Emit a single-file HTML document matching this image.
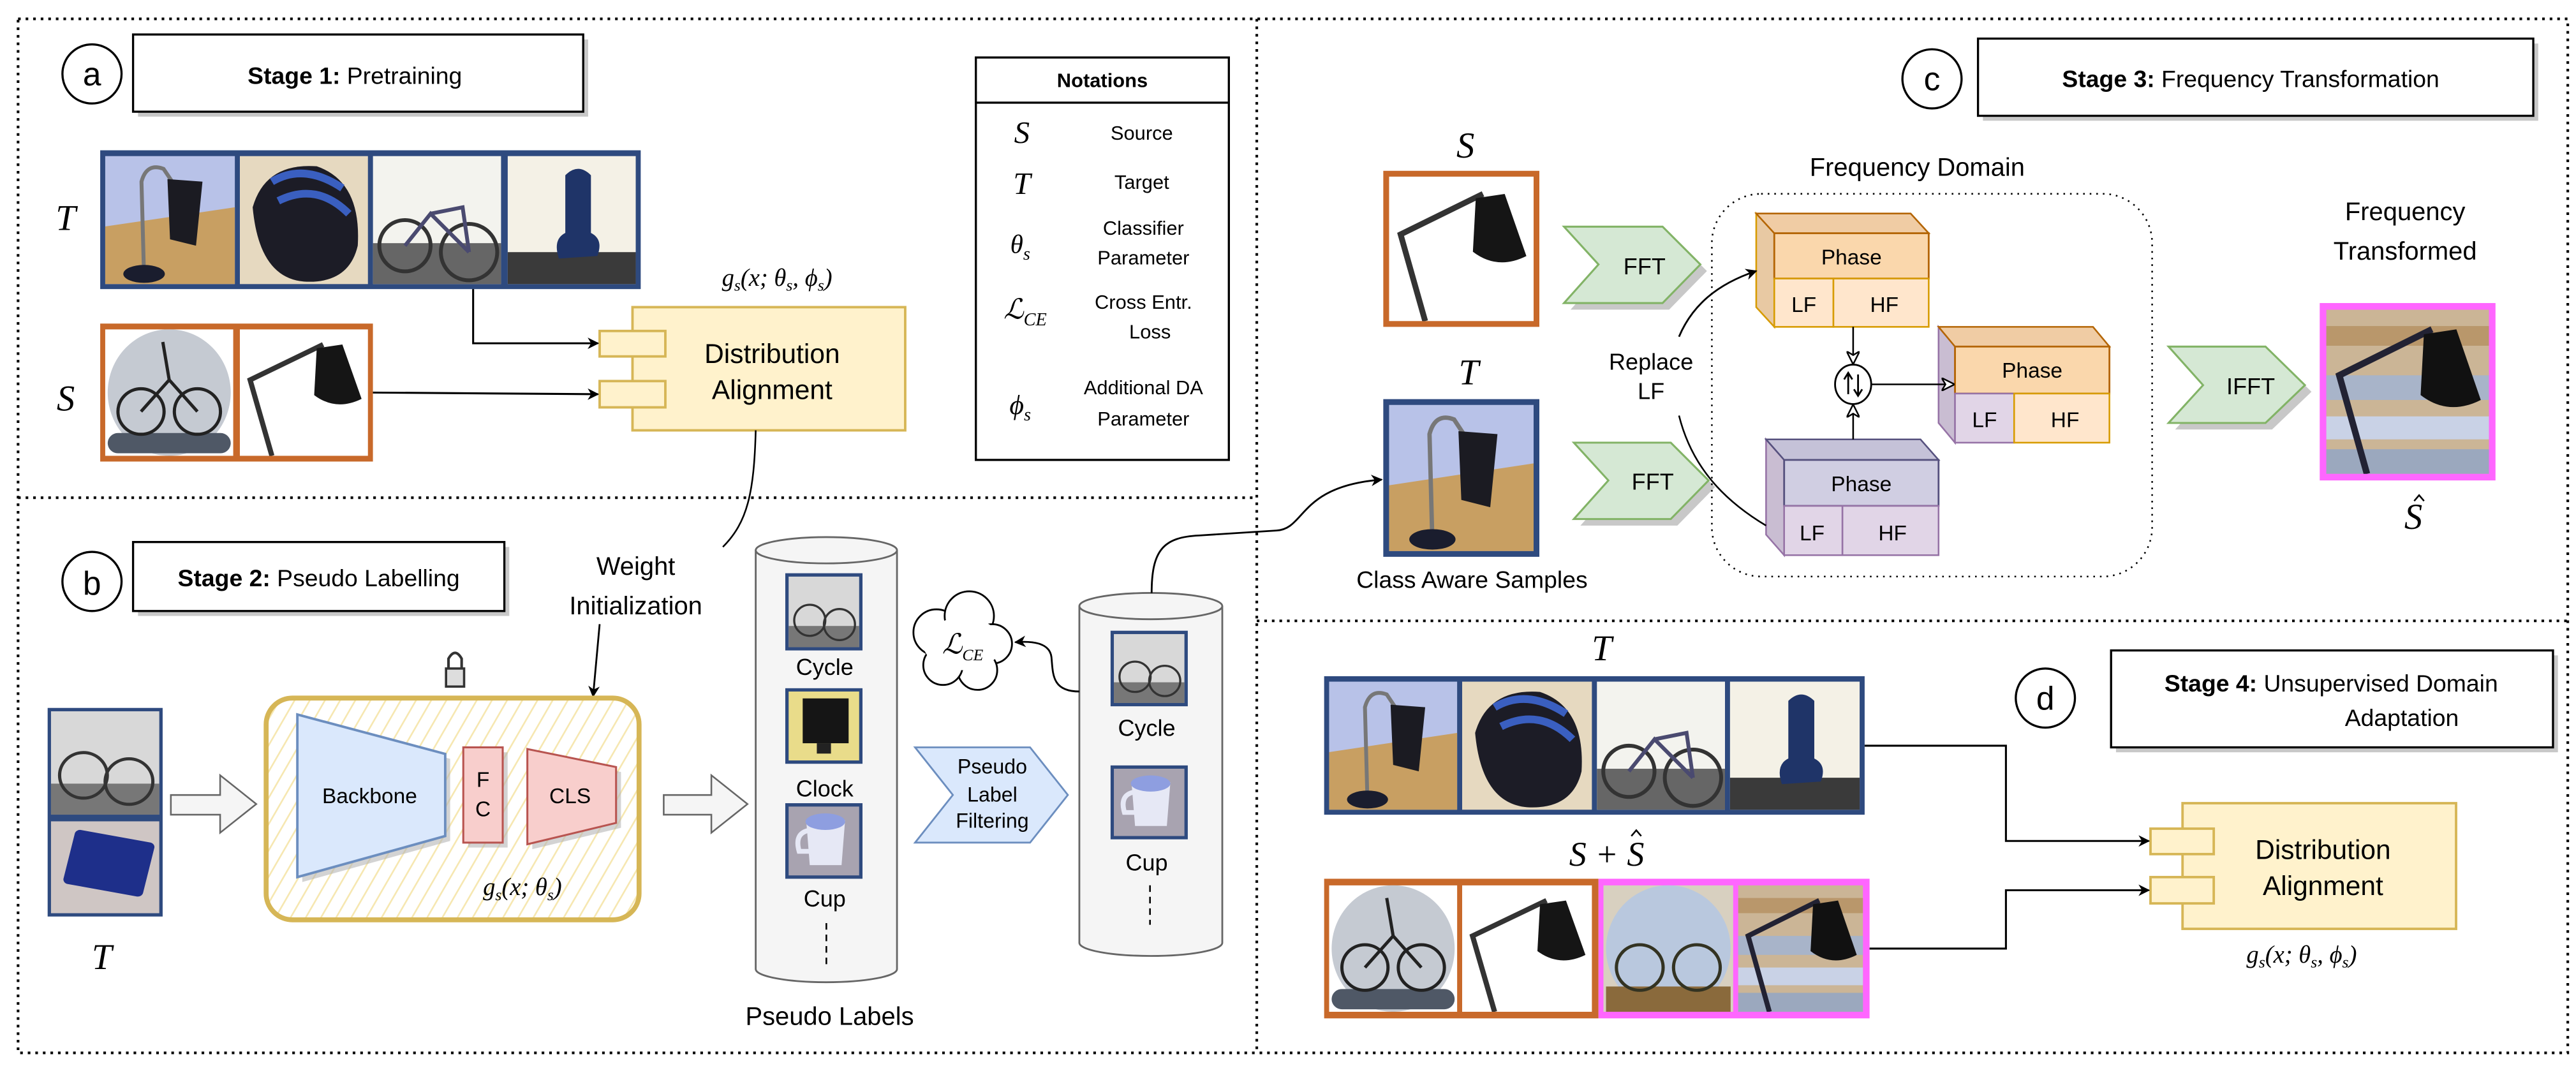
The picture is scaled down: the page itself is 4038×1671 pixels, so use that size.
<!DOCTYPE html>
<html><head><meta charset="utf-8"><style>
html,body{margin:0;padding:0;background:#fff;}
svg{display:block;}
text{font-family:"Liberation Sans",sans-serif;fill:#000;}
.m{font-family:"Liberation Serif",serif;font-style:italic;}
</style></head><body>
<svg width="4038" height="1671" viewBox="0 0 1568 649" preserveAspectRatio="none" xmlns="http://www.w3.org/2000/svg">
<defs>
<marker id="ah" viewBox="0 0 10 10" refX="9" refY="5" markerWidth="7" markerHeight="7" orient="auto" markerUnits="userSpaceOnUse"><path d="M0,0 L10,5 L0,10 L3,5 z" fill="#000"/></marker>
<marker id="ao" viewBox="0 0 10 10" refX="9" refY="5" markerWidth="8" markerHeight="8" orient="auto" markerUnits="userSpaceOnUse"><path d="M0,0 L10,5 L0,10 L3,5 z" fill="#fff" stroke="#000" stroke-width="1.2"/></marker>
<pattern id="hatch" width="8" height="8" patternUnits="userSpaceOnUse" patternTransform="rotate(30)"><rect width="8" height="8" fill="#fff"/><line x1="0" y1="0" x2="0" y2="8" stroke="#f6e7b0" stroke-width="2"/></pattern>
<symbol id="tlamp" viewBox="0 0 100 100" preserveAspectRatio="none"><rect width="100" height="100" fill="#b8c2e8"/><polygon points="0,55 100,40 100,100 0,100" fill="#c89f62"/><path d="M30,95 L28,20 Q32,5 45,10 L55,25" stroke="#777" stroke-width="3" fill="none"/><path d="M48,18 L75,20 L70,70 L50,65 z" fill="#1b1b22"/><ellipse cx="30" cy="92" rx="16" ry="7" fill="#1a1d2e"/></symbol>
<symbol id="helmet" viewBox="0 0 100 100" preserveAspectRatio="none"><rect width="100" height="100" fill="#e6d9c0"/><path d="M10,40 Q20,5 60,8 Q95,20 92,70 Q85,100 50,98 Q15,95 10,40z" fill="#1c1c26"/><path d="M25,20 Q50,5 80,25 M30,35 Q60,20 85,45" stroke="#3a5fc0" stroke-width="6" fill="none"/></symbol>
<symbol id="tbike" viewBox="0 0 100 100" preserveAspectRatio="none"><rect width="100" height="100" fill="#f3f3ee"/><rect y="68" width="100" height="32" fill="#666"/><circle cx="25" cy="70" r="20" fill="none" stroke="#333" stroke-width="3"/><circle cx="75" cy="75" r="22" fill="none" stroke="#333" stroke-width="3"/><path d="M25,70 L45,45 L75,75 M45,45 L70,40 L75,75" stroke="#4a4a70" stroke-width="3" fill="none"/></symbol>
<symbol id="chair" viewBox="0 0 100 100" preserveAspectRatio="none"><rect width="100" height="100" fill="#f4f1e6"/><rect y="75" width="100" height="25" fill="#3a3a3a"/><path d="M45,15 Q55,5 65,15 L65,60 Q75,65 70,78 L40,80 Q35,65 45,60z" fill="#1f3468"/></symbol>
<symbol id="slamp" viewBox="0 0 100 100" preserveAspectRatio="none"><rect width="100" height="100" fill="#fff"/><path d="M25,100 L8,40 L65,12" stroke="#333" stroke-width="4" fill="none"/><path d="M60,15 L80,12 L95,55 Q75,65 58,52z" fill="#151515"/></symbol>
<symbol id="sbike" viewBox="0 0 100 100" preserveAspectRatio="none"><rect width="100" height="100" fill="#fff"/><ellipse cx="50" cy="50" rx="48" ry="50" fill="#c5cad2"/><rect x="2" y="82" width="96" height="16" rx="8" fill="#4f5866"/><circle cx="28" cy="65" r="18" fill="none" stroke="#222" stroke-width="2.5"/><circle cx="72" cy="65" r="18" fill="none" stroke="#222" stroke-width="2.5"/><path d="M28,65 L50,40 L72,65 M50,40 L45,10" stroke="#222" stroke-width="2.5" fill="none"/></symbol>
<symbol id="blur" viewBox="0 0 100 100" preserveAspectRatio="none"><rect width="100" height="100" fill="#cbb596"/><rect y="10" width="100" height="12" fill="#b08a58" opacity=".7"/><rect y="40" width="100" height="15" fill="#9fb4d6" opacity=".8"/><rect y="65" width="100" height="14" fill="#c9d2e6"/><rect y="85" width="100" height="15" fill="#8ea5c8" opacity=".8"/><path d="M25,100 L8,40 L65,12" stroke="#223" stroke-width="4" fill="none"/><path d="M60,15 L80,12 L95,55 Q75,65 58,52z" fill="#111"/></symbol>
<symbol id="blurbike" viewBox="0 0 100 100" preserveAspectRatio="none"><rect width="100" height="100" fill="#d8d0c0"/><ellipse cx="50" cy="50" rx="48" ry="50" fill="#b9c8de"/><rect x="2" y="80" width="96" height="20" fill="#8a6a3c"/><circle cx="28" cy="65" r="18" fill="none" stroke="#332" stroke-width="2.5"/><circle cx="72" cy="65" r="18" fill="none" stroke="#332" stroke-width="2.5"/></symbol>
<symbol id="gbike" viewBox="0 0 100 100" preserveAspectRatio="none"><rect width="100" height="100" fill="#d8d8d8"/><rect y="70" width="100" height="30" fill="#777"/><circle cx="30" cy="62" r="22" fill="none" stroke="#333" stroke-width="3"/><circle cx="72" cy="68" r="22" fill="none" stroke="#333" stroke-width="3"/></symbol>
<symbol id="calc" viewBox="0 0 100 100" preserveAspectRatio="none"><rect width="100" height="100" fill="#cfc6c4"/><rect x="15" y="15" width="75" height="60" rx="5" fill="#1e2f8a" transform="rotate(12 50 50)"/></symbol>
<symbol id="monitor" viewBox="0 0 100 100" preserveAspectRatio="none"><rect width="100" height="100" fill="#e9dc8a"/><rect x="20" y="10" width="65" height="65" fill="#151515"/><rect x="40" y="75" width="20" height="15" fill="#222"/></symbol>
<symbol id="cup" viewBox="0 0 100 100" preserveAspectRatio="none"><rect width="100" height="100" fill="#a8a3b0"/><path d="M25,20 L80,20 L75,85 L30,85z" fill="#e6e8f5"/><ellipse cx="52" cy="22" rx="28" ry="12" fill="#8e9ee0"/><path d="M27,35 Q8,40 15,65 L30,65" stroke="#e6e8f5" stroke-width="7" fill="none"/></symbol>
</defs>

<g stroke="#000" stroke-width="1.6" stroke-dasharray="1.6 3" fill="none">
<rect x="11" y="11.5" width="1552" height="629.5"/>
<line x1="11" y1="303" x2="765" y2="303"/>
<line x1="765" y1="11.5" x2="765" y2="641"/>
<line x1="765" y1="378" x2="1563" y2="378"/>
</g>

<!-- ===== Stage 1 ===== -->
<circle cx="56" cy="45" r="18" fill="#fff" stroke="#000" stroke-width="1.3"/>
<text x="56" y="52" font-size="20" text-anchor="middle">a</text>
<rect x="84" y="24" width="274" height="47" fill="#c8c8c8"/>
<rect x="81" y="21" width="274" height="47" fill="#fff" stroke="#000" stroke-width="1.3"/>
<text x="216" y="51" font-size="14.5" text-anchor="middle"><tspan font-weight="bold">Stage 1:</tspan> Pretraining</text>

<rect x="594" y="35" width="154" height="245" fill="#fff" stroke="#000" stroke-width="1.3"/>
<line x1="594" y1="62.5" x2="748" y2="62.5" stroke="#000" stroke-width="1.3"/>
<text x="671" y="53" font-size="12" font-weight="bold" text-anchor="middle">Notations</text>
<g font-size="12" text-anchor="middle">
<text x="695" y="85">Source</text>
<text x="695" y="115">Target</text>
<text x="696" y="143">Classifier</text>
<text x="696" y="161">Parameter</text>
<text x="696" y="188">Cross Entr.</text>
<text x="700" y="206">Loss</text>
<text x="696" y="240">Additional DA</text>
<text x="696" y="259">Parameter</text>
</g>
<g class="m" font-size="19" text-anchor="middle">
<text x="622" y="87" class="m">S</text>
<text x="622" y="118" class="m">T</text>
<text x="621" y="154" class="m" font-size="16">θ<tspan font-size="11" dy="4">s</tspan></text>
<text x="624" y="194" class="m" font-size="17">ℒ<tspan font-size="11" dy="4">CE</tspan></text>
<text x="621" y="252" class="m" font-size="17">ϕ<tspan font-size="11" dy="4">s</tspan></text>
</g>

<rect x="61" y="91.5" width="329" height="84.5" fill="#2e4a7f"/>
<use href="#tlamp" x="64" y="95" width="79" height="78"/>
<use href="#helmet" x="146" y="95" width="78" height="78"/>
<use href="#tbike" x="227" y="95" width="78" height="78"/>
<use href="#chair" x="309" y="95" width="78" height="78"/>
<text x="40" y="140" class="m" font-size="22" text-anchor="middle">T</text>
<rect x="61" y="197" width="166" height="84" fill="#c8692a"/>
<use href="#sbike" x="64" y="200.5" width="78" height="77"/>
<use href="#slamp" x="146" y="200.5" width="78" height="77"/>
<text x="40" y="250" class="m" font-size="22" text-anchor="middle">S</text>

<text x="473" y="174" class="m" font-size="15" text-anchor="middle">g<tspan font-size="10" dy="3">s</tspan><tspan dy="-3">(x; θ</tspan><tspan font-size="10" dy="3">s</tspan><tspan dy="-3">, ϕ</tspan><tspan font-size="10" dy="3">s</tspan><tspan dy="-3">)</tspan></text>
<rect x="385" y="187" width="166" height="75" fill="#fff2cc" stroke="#d6b656" stroke-width="1.5"/>
<rect x="365" y="201.5" width="40" height="15.5" fill="#fff2cc" stroke="#d6b656" stroke-width="1.5"/>
<rect x="365" y="232" width="40" height="16" fill="#fff2cc" stroke="#d6b656" stroke-width="1.5"/>
<text x="470" y="221" font-size="16.5" text-anchor="middle">Distribution</text>
<text x="470" y="243" font-size="16.5" text-anchor="middle">Alignment</text>
<path d="M288,176 L288,209 L364,209" fill="none" stroke="#000" stroke-width="1.2" marker-end="url(#ah)"/>
<path d="M227,239 L364,240" fill="none" stroke="#000" stroke-width="1.2" marker-end="url(#ah)"/>
<path d="M460,262 C459,300 455,318 440,333" fill="none" stroke="#000" stroke-width="1"/>

<!-- ===== Stage 2 ===== -->
<circle cx="56" cy="354" r="18" fill="#fff" stroke="#000" stroke-width="1.3"/>
<text x="56" y="362" font-size="20" text-anchor="middle">b</text>
<rect x="84" y="333" width="226" height="42" fill="#c8c8c8"/>
<rect x="81" y="330" width="226" height="42" fill="#fff" stroke="#000" stroke-width="1.3"/>
<text x="194" y="357" font-size="14.5" text-anchor="middle"><tspan font-weight="bold">Stage 2:</tspan> Pseudo Labelling</text>
<text x="387" y="350" font-size="15.5" text-anchor="middle">Weight</text>
<text x="387" y="374" font-size="15.5" text-anchor="middle">Initialization</text>
<path d="M365,380 L361,424" fill="none" stroke="#000" stroke-width="1.1" marker-end="url(#ah)"/>
<path d="M273,408 L273,401 Q277,394 281,401 L281,408" fill="none" stroke="#333" stroke-width="1.6"/>
<rect x="271.5" y="407" width="11" height="11" fill="#ddd" stroke="#333" stroke-width="1.4"/>
<rect x="162" y="425" width="227" height="135" rx="16" fill="url(#hatch)" stroke="#d6b656" stroke-width="3"/>
<polygon points="184,438 274,462 274,512 184,537" fill="#b5b5b5" opacity=".6"/>
<polygon points="181,435 271,459 271,509 181,534" fill="#dae8fc" stroke="#6c8ebf" stroke-width="1.5"/>
<rect x="285" y="458" width="24" height="58" fill="#b5b5b5" opacity=".6"/>
<rect x="282" y="455" width="24" height="58" fill="#f8cecc" stroke="#b85450" stroke-width="1.2"/>
<polygon points="324,459 378,470 378,504 324,517" fill="#b5b5b5" opacity=".6"/>
<polygon points="321,456 375,467 375,501 321,514" fill="#f8cecc" stroke="#b85450" stroke-width="1.2"/>
<text x="225" y="489" font-size="13" text-anchor="middle">Backbone</text>
<text x="294" y="479" font-size="13" text-anchor="middle">F</text>
<text x="294" y="497" font-size="13" text-anchor="middle">C</text>
<text x="347" y="489" font-size="13" text-anchor="middle">CLS</text>
<text x="318" y="545" class="m" font-size="15" text-anchor="middle">g<tspan font-size="10" dy="3">s</tspan><tspan dy="-3">(x; θ</tspan><tspan font-size="10" dy="3">s</tspan><tspan dy="-3">)</tspan></text>
<rect x="29" y="431" width="70" height="127" fill="#2e4a7f"/>
<use href="#gbike" x="31" y="433" width="66" height="63"/>
<use href="#calc" x="31" y="500" width="66" height="56"/>
<text x="62" y="590" class="m" font-size="22" text-anchor="middle">T</text>
<polygon points="104,484 134,484 134,472 156,489.5 134,507 134,496 104,496" fill="#f5f5f5" stroke="#666" stroke-width="1"/>
<polygon points="404,484 433,484 433,472 455,489.5 433,507 433,496 404,496" fill="#f5f5f5" stroke="#666" stroke-width="1"/>
<path d="M460,335 L460,590 A43,8 0 0 0 546,590 L546,335" fill="#f5f5f5" stroke="#666" stroke-width="1.1"/>
<ellipse cx="503" cy="335" rx="43" ry="8" fill="#f5f5f5" stroke="#666" stroke-width="1.1"/>
<rect x="478" y="349" width="47" height="47" fill="#2e4a7f"/><use href="#gbike" x="480" y="351" width="43" height="43"/>
<rect x="478" y="419" width="47" height="46" fill="#2e4a7f"/><use href="#monitor" x="480" y="421" width="43" height="42"/>
<rect x="478" y="489" width="47" height="46" fill="#2e4a7f"/><use href="#cup" x="480" y="491" width="43" height="42"/>
<g font-size="14" text-anchor="middle"><text x="502" y="411">Cycle</text><text x="502" y="485">Clock</text><text x="502" y="552">Cup</text></g>
<line x1="503" y1="562" x2="503" y2="588" stroke="#000" stroke-dasharray="4 3"/>
<text x="505" y="624" font-size="15.5" text-anchor="middle">Pseudo Labels</text>
<polygon points="557,455 627,455 650,484 627,513 557,513 580,484" fill="#dae8fc" stroke="#6c8ebf" stroke-width="1.1"/>
<g font-size="12.5" text-anchor="middle"><text x="604" y="471">Pseudo</text><text x="604" y="488">Label</text><text x="604" y="504">Filtering</text></g>
<path d="M657,369 L657,574 A43.5,8 0 0 0 744,574 L744,369" fill="#f5f5f5" stroke="#666" stroke-width="1.1"/>
<ellipse cx="700.5" cy="369" rx="43.5" ry="8" fill="#f5f5f5" stroke="#666" stroke-width="1.1"/>
<rect x="676" y="384" width="47" height="46" fill="#2e4a7f"/><use href="#gbike" x="678" y="386" width="43" height="42"/>
<rect x="676" y="466" width="47" height="45" fill="#2e4a7f"/><use href="#cup" x="678" y="468" width="43" height="41"/>
<g font-size="14" text-anchor="middle"><text x="698" y="448">Cycle</text><text x="698" y="530">Cup</text></g>
<line x1="700" y1="539" x2="700" y2="563" stroke="#000" stroke-dasharray="4 3"/>
<g fill="#fff" stroke="#000" stroke-width="1.1">
<circle cx="570" cy="385" r="14"/><circle cx="590" cy="375" r="15"/><circle cx="604" cy="392" r="12"/><circle cx="595" cy="408" r="12"/><circle cx="574" cy="405" r="12"/>
</g>
<ellipse cx="586" cy="392" rx="24" ry="16" fill="#fff"/>
<text x="586" y="398" class="m" font-size="17" text-anchor="middle">ℒ<tspan font-size="10" dy="4">CE</tspan></text>
<path d="M657,421 C640,421 641,410 640,400 C639,392 630,390 618,391" fill="none" stroke="#000" stroke-width="1.1" marker-end="url(#ah)"/>
<path d="M701,361 C701,335 708,327 730,326 L777,323 C795,322 790,296 841,292" fill="none" stroke="#000" stroke-width="1.1" marker-end="url(#ah)"/>

<!-- ===== Stage 3 ===== -->
<circle cx="1176" cy="48" r="18" fill="#fff" stroke="#000" stroke-width="1.3"/>
<text x="1176" y="55" font-size="20" text-anchor="middle">c</text>
<rect x="1207" y="26.5" width="338" height="47" fill="#c8c8c8"/>
<rect x="1204" y="23.5" width="338" height="47" fill="#fff" stroke="#000" stroke-width="1.3"/>
<text x="1370" y="53" font-size="14.5" text-anchor="middle"><tspan font-weight="bold">Stage 3:</tspan> Frequency Transformation</text>

<text x="892" y="96" class="m" font-size="22" text-anchor="middle">S</text>
<rect x="842" y="104" width="95" height="95" fill="#c8692a"/><use href="#slamp" x="845.5" y="107.5" width="88" height="88"/>
<text x="894" y="234" class="m" font-size="22" text-anchor="middle">T</text>
<rect x="842" y="243" width="95" height="96" fill="#2e4a7f"/><use href="#tlamp" x="845.5" y="246.5" width="88" height="89"/>
<text x="896" y="358" font-size="14.5" text-anchor="middle">Class Aware Samples</text>

<polygon points="956,142 1016,142 1039,165 1016,188.5 956,188.5 977,165" fill="#c8c8c8"/>
<polygon points="952,138 1012,138 1035,161 1012,184.5 952,184.5 973,161" fill="#d5e8d4" stroke="#82b366" stroke-width="1.2"/>
<text x="1001" y="167" font-size="14" text-anchor="middle">FFT</text>
<polygon points="962,273.5 1021,273.5 1044,296.5 1021,320 962,320 983,296.5" fill="#c8c8c8"/>
<polygon points="958,269.5 1017,269.5 1040,292.5 1017,316 958,316 979,292.5" fill="#d5e8d4" stroke="#82b366" stroke-width="1.2"/>
<text x="1006" y="298" font-size="14" text-anchor="middle">FFT</text>

<text x="1167" y="107" font-size="15.5" text-anchor="middle">Frequency Domain</text>
<rect x="1042" y="118" width="268" height="233" rx="30" fill="none" stroke="#000" stroke-width="1" stroke-dasharray="1 3"/>

<polygon points="1069,130 1080,142 1080,199 1069,187" fill="#e8c9a3" stroke="#d79b00" stroke-width="1"/>
<polygon points="1069,130 1163,130 1174,142 1080,142" fill="#f0cca4" stroke="#b46504" stroke-width="1"/>
<rect x="1080" y="142" width="94" height="27.6" fill="#fad7ac" stroke="#b46504" stroke-width="1.1"/>
<rect x="1080" y="169.6" width="36" height="29.4" fill="#ffe6cc" stroke="#d79b00" stroke-width="1"/>
<rect x="1116" y="169.6" width="58" height="29.4" fill="#ffe6cc" stroke="#d79b00" stroke-width="1"/>
<text x="1127" y="161" font-size="13" text-anchor="middle">Phase</text>
<text x="1098" y="190" font-size="13" text-anchor="middle">LF</text>
<text x="1147" y="190" font-size="13" text-anchor="middle">HF</text>
<polygon points="1180,199 1190,211 1190,269.5 1180,257.5" fill="#c9bdd2" stroke="#9673a6" stroke-width="1"/>
<polygon points="1180,199 1274,199 1284,211 1190,211" fill="#f0cca4" stroke="#b46504" stroke-width="1"/>
<rect x="1190" y="211" width="94" height="28.6" fill="#fad7ac" stroke="#b46504" stroke-width="1.1"/>
<rect x="1190" y="239.6" width="36" height="29.9" fill="#e1d5e7" stroke="#9673a6" stroke-width="1"/>
<rect x="1226" y="239.6" width="58" height="29.9" fill="#ffe6cc" stroke="#d79b00" stroke-width="1"/>
<text x="1237" y="230" font-size="13" text-anchor="middle">Phase</text>
<text x="1208" y="260" font-size="13" text-anchor="middle">LF</text>
<text x="1257" y="260" font-size="13" text-anchor="middle">HF</text>
<polygon points="1075,267.5 1086,280 1086,338 1075,325.5" fill="#c9bdd2" stroke="#9673a6" stroke-width="1"/>
<polygon points="1075,267.5 1169,267.5 1180,280 1086,280" fill="#c5c2d8" stroke="#56517e" stroke-width="1"/>
<rect x="1086" y="280" width="94" height="28" fill="#d0cee2" stroke="#56517e" stroke-width="1.1"/>
<rect x="1086" y="308" width="35.5" height="30" fill="#e1d5e7" stroke="#9673a6" stroke-width="1"/>
<rect x="1121.5" y="308" width="58.5" height="30" fill="#e1d5e7" stroke="#9673a6" stroke-width="1"/>
<text x="1133" y="299" font-size="13" text-anchor="middle">Phase</text>
<text x="1103" y="329" font-size="13" text-anchor="middle">LF</text>
<text x="1152" y="329" font-size="13" text-anchor="middle">HF</text>
<line x1="1128" y1="199" x2="1128" y2="221" stroke="#000" stroke-width="1" marker-end="url(#ao)"/>
<line x1="1128" y1="267.5" x2="1128" y2="247" stroke="#000" stroke-width="1" marker-end="url(#ao)"/>
<line x1="1139" y1="234" x2="1189" y2="234" stroke="#000" stroke-width="1" marker-end="url(#ao)"/>
<ellipse cx="1128" cy="234" rx="11" ry="12" fill="#fff" stroke="#000" stroke-width="1.1"/>
<path d="M1125,240 L1125,228 M1122.5,231 L1125,227 L1127.5,231 M1131,228 L1131,240 M1128.5,237 L1131,241 L1133.5,237" stroke="#000" stroke-width="1.1" fill="none"/>
<text x="1005" y="225" font-size="14" text-anchor="middle">Replace</text>
<text x="1005" y="243" font-size="14" text-anchor="middle">LF</text>
<path d="M1022,205 C1030,186 1045,173 1069,165" fill="none" stroke="#000" stroke-width="1.1" marker-end="url(#ah)"/>
<path d="M1022,253 C1030,285 1050,305 1075,320" fill="none" stroke="#000" stroke-width="1"/>
<polygon points="1324,215 1383,215 1407,238.5 1383,261.5 1324,261.5 1345,238.5" fill="#c8c8c8"/>
<polygon points="1320,211 1379,211 1403,234.5 1379,257.5 1320,257.5 1341,234.5" fill="#d5e8d4" stroke="#82b366" stroke-width="1.2"/>
<text x="1370" y="240" font-size="14" text-anchor="middle">IFFT</text>
<text x="1464" y="134" font-size="15.5" text-anchor="middle">Frequency</text>
<text x="1464" y="158" font-size="15.5" text-anchor="middle">Transformed</text>
<rect x="1412" y="184.5" width="107" height="108" fill="#ff66ff"/><use href="#blur" x="1416" y="188.5" width="99" height="100"/>
<text x="1469" y="322" class="m" font-size="22" text-anchor="middle">S</text>
<path d="M1469.5,305 L1472.5,301.5 L1475.5,305" fill="none" stroke="#000" stroke-width="1"/>

<!-- ===== Stage 4 ===== -->
<text x="975" y="402" class="m" font-size="22" text-anchor="middle">T</text>
<rect x="806" y="411.7" width="329" height="84.3" fill="#2e4a7f"/>
<use href="#tlamp" x="809" y="415" width="78" height="78"/>
<use href="#helmet" x="890" y="415" width="79" height="78"/>
<use href="#tbike" x="972" y="415" width="78" height="78"/>
<use href="#chair" x="1053" y="415" width="79" height="78"/>
<text x="978" y="527" class="m" font-size="21" text-anchor="middle">S + S</text>
<path d="M993,509 L996,505.5 L999,509" fill="none" stroke="#000" stroke-width="1"/>
<rect x="806" y="535" width="167" height="85" fill="#c8692a"/>
<rect x="973" y="535" width="165" height="85" fill="#ff66ff"/>
<use href="#sbike" x="809" y="539" width="78" height="77"/>
<use href="#slamp" x="890" y="539" width="79" height="77"/>
<use href="#blurbike" x="976" y="539" width="79" height="77"/>
<use href="#blur" x="1058" y="539" width="76" height="77"/>

<circle cx="1245" cy="425" r="18" fill="#fff" stroke="#000" stroke-width="1.3"/>
<text x="1245" y="432" font-size="20" text-anchor="middle">d</text>
<rect x="1288" y="399" width="269" height="59" fill="#c8c8c8"/>
<rect x="1285" y="396" width="269" height="59" fill="#fff" stroke="#000" stroke-width="1.3"/>
<text x="1419" y="421" font-size="14.5" text-anchor="middle"><tspan font-weight="bold">Stage 4:</tspan> Unsupervised Domain</text>
<text x="1462" y="442" font-size="14.5" text-anchor="middle">Adaptation</text>

<rect x="1328.5" y="489" width="166.5" height="76.5" fill="#fff2cc" stroke="#d6b656" stroke-width="1.5"/>
<rect x="1309" y="504.5" width="38.5" height="15.5" fill="#fff2cc" stroke="#d6b656" stroke-width="1.5"/>
<rect x="1309" y="534" width="38.5" height="16" fill="#fff2cc" stroke="#d6b656" stroke-width="1.5"/>
<text x="1414" y="523" font-size="16.5" text-anchor="middle">Distribution</text>
<text x="1414" y="545" font-size="16.5" text-anchor="middle">Alignment</text>
<text x="1401" y="586" class="m" font-size="15" text-anchor="middle">g<tspan font-size="10" dy="3">s</tspan><tspan dy="-3">(x; θ</tspan><tspan font-size="10" dy="3">s</tspan><tspan dy="-3">, ϕ</tspan><tspan font-size="10" dy="3">s</tspan><tspan dy="-3">)</tspan></text>
<path d="M1135,454 L1221,454 L1221,512 L1308,512" fill="none" stroke="#000" stroke-width="1.2" marker-end="url(#ah)"/>
<path d="M1138,577.5 L1221,577.5 L1221,542 L1308,542" fill="none" stroke="#000" stroke-width="1.2" marker-end="url(#ah)"/>
</svg>
</body></html>
